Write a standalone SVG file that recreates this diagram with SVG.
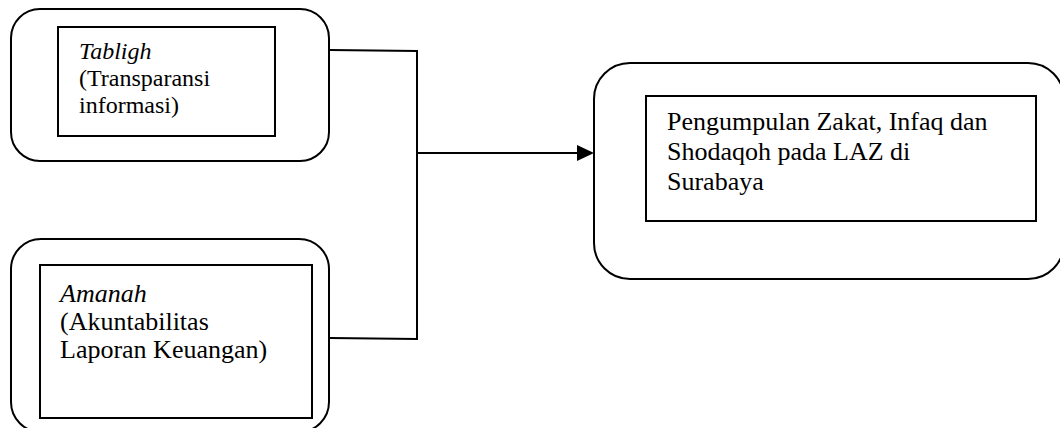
<svg xmlns="http://www.w3.org/2000/svg" width="1060" height="428" viewBox="0 0 1060 428">
<style>
.outer{fill:#fff;stroke:#000;stroke-width:2}
.inner{fill:#fff;stroke:#000;stroke-width:2}
.t{font-family:"Liberation Serif","Times New Roman",serif;font-size:24px;fill:#000}
.big{font-size:26px}
.i{font-style:italic}
.c{fill:none;stroke:#000;stroke-width:2}
</style>
<rect width="1060" height="428" fill="#fff"/>
<g id="connectors">
<polyline class="c" points="330,50 417,51 417,339 330,338"/>
<line class="c" x1="417" y1="153" x2="578" y2="153"/>
<polygon points="577,145 594,153 577,161" fill="#000"/>
</g>
<g id="tabligh">
<rect class="outer" x="11" y="9" width="318" height="152" rx="29"/>
<rect class="inner" x="58" y="27" width="217" height="109"/>
<text class="t" x="79" y="59"><tspan class="i">Tabligh</tspan><tspan x="79" dy="27">(Transparansi</tspan><tspan x="79" dy="27">informasi)</tspan></text>
</g>
<g id="amanah">
<rect class="outer" x="11" y="239" width="318" height="193" rx="30"/>
<rect class="inner" x="40" y="265" width="272" height="153"/>
<text class="t big" x="60" y="302"><tspan class="i">Amanah</tspan><tspan x="60" dy="28">(Akuntabilitas</tspan><tspan x="60" dy="28">Laporan Keuangan)</tspan></text>
</g>
<g id="pengumpulan">
<rect class="outer" x="594" y="63" width="470" height="216" rx="36"/>
<rect class="inner" x="646" y="96" width="390" height="125"/>
<text class="t big" x="667" y="130">Pengumpulan Zakat, Infaq dan<tspan x="667" dy="30">Shodaqoh pada LAZ di</tspan><tspan x="667" dy="30">Surabaya</tspan></text>
</g>
</svg>
